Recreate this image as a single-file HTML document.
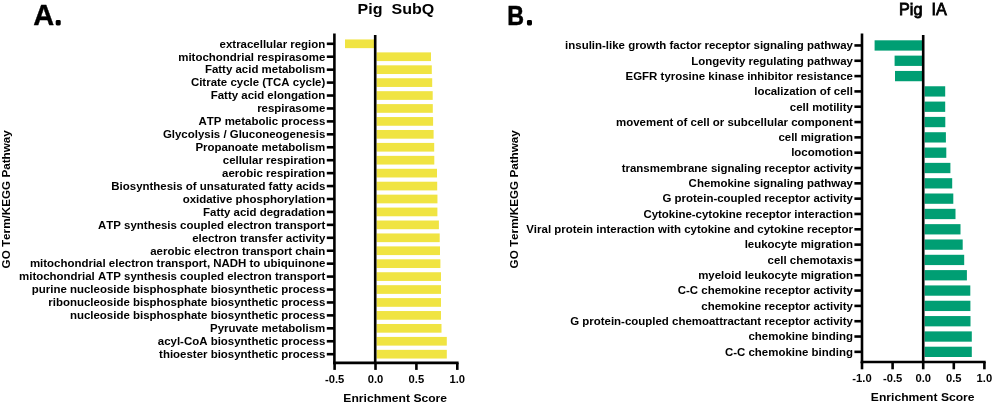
<!DOCTYPE html>
<html><head><meta charset="utf-8"><title>Enrichment</title>
<style>
html,body{margin:0;padding:0;background:#fff;}
svg{display:block;}
text{font-family:"Liberation Sans",Arial,sans-serif;font-weight:bold;fill:#000;font-kerning:none;}
</style></head>
<body>
<svg width="994" height="404" viewBox="0 0 994 404">
<rect width="994" height="404" fill="#fff"/>
<g id="chartA">
<rect x="345.00" y="39.45" width="30.20" height="8.70" fill="#F0E442"/>
<rect x="376.60" y="52.38" width="54.40" height="8.70" fill="#F0E442"/>
<rect x="376.60" y="65.32" width="55.20" height="8.70" fill="#F0E442"/>
<rect x="376.60" y="78.25" width="55.60" height="8.70" fill="#F0E442"/>
<rect x="376.60" y="91.18" width="56.10" height="8.70" fill="#F0E442"/>
<rect x="376.60" y="104.11" width="56.20" height="8.70" fill="#F0E442"/>
<rect x="376.60" y="117.05" width="56.50" height="8.70" fill="#F0E442"/>
<rect x="376.60" y="129.98" width="57.00" height="8.70" fill="#F0E442"/>
<rect x="376.60" y="142.91" width="57.60" height="8.70" fill="#F0E442"/>
<rect x="376.60" y="155.85" width="57.70" height="8.70" fill="#F0E442"/>
<rect x="376.60" y="168.78" width="60.40" height="8.70" fill="#F0E442"/>
<rect x="376.60" y="181.71" width="60.60" height="8.70" fill="#F0E442"/>
<rect x="376.60" y="194.65" width="60.85" height="8.70" fill="#F0E442"/>
<rect x="376.60" y="207.58" width="60.80" height="8.70" fill="#F0E442"/>
<rect x="376.60" y="220.51" width="62.30" height="8.70" fill="#F0E442"/>
<rect x="376.60" y="233.45" width="63.10" height="8.70" fill="#F0E442"/>
<rect x="376.60" y="246.38" width="63.40" height="8.70" fill="#F0E442"/>
<rect x="376.60" y="259.31" width="63.80" height="8.70" fill="#F0E442"/>
<rect x="376.60" y="272.24" width="64.40" height="8.70" fill="#F0E442"/>
<rect x="376.60" y="285.18" width="64.40" height="8.70" fill="#F0E442"/>
<rect x="376.60" y="298.11" width="64.40" height="8.70" fill="#F0E442"/>
<rect x="376.60" y="311.04" width="64.40" height="8.70" fill="#F0E442"/>
<rect x="376.60" y="323.98" width="64.90" height="8.70" fill="#F0E442"/>
<rect x="376.60" y="336.91" width="70.20" height="8.70" fill="#F0E442"/>
<rect x="376.60" y="349.84" width="70.20" height="8.70" fill="#F0E442"/>
<g stroke="#000" stroke-width="2.6" fill="none">
<line x1="334.4" y1="33.6" x2="334.4" y2="364.2"/>
<line x1="375.2" y1="35.0" x2="375.2" y2="362.9"/>
<line x1="333.09999999999997" y1="362.9" x2="458.6" y2="362.9"/>
<line x1="326.79999999999995" y1="43.80" x2="334.4" y2="43.80"/>
<line x1="326.79999999999995" y1="56.73" x2="334.4" y2="56.73"/>
<line x1="326.79999999999995" y1="69.67" x2="334.4" y2="69.67"/>
<line x1="326.79999999999995" y1="82.60" x2="334.4" y2="82.60"/>
<line x1="326.79999999999995" y1="95.53" x2="334.4" y2="95.53"/>
<line x1="326.79999999999995" y1="108.46" x2="334.4" y2="108.46"/>
<line x1="326.79999999999995" y1="121.40" x2="334.4" y2="121.40"/>
<line x1="326.79999999999995" y1="134.33" x2="334.4" y2="134.33"/>
<line x1="326.79999999999995" y1="147.26" x2="334.4" y2="147.26"/>
<line x1="326.79999999999995" y1="160.20" x2="334.4" y2="160.20"/>
<line x1="326.79999999999995" y1="173.13" x2="334.4" y2="173.13"/>
<line x1="326.79999999999995" y1="186.06" x2="334.4" y2="186.06"/>
<line x1="326.79999999999995" y1="199.00" x2="334.4" y2="199.00"/>
<line x1="326.79999999999995" y1="211.93" x2="334.4" y2="211.93"/>
<line x1="326.79999999999995" y1="224.86" x2="334.4" y2="224.86"/>
<line x1="326.79999999999995" y1="237.80" x2="334.4" y2="237.80"/>
<line x1="326.79999999999995" y1="250.73" x2="334.4" y2="250.73"/>
<line x1="326.79999999999995" y1="263.66" x2="334.4" y2="263.66"/>
<line x1="326.79999999999995" y1="276.59" x2="334.4" y2="276.59"/>
<line x1="326.79999999999995" y1="289.53" x2="334.4" y2="289.53"/>
<line x1="326.79999999999995" y1="302.46" x2="334.4" y2="302.46"/>
<line x1="326.79999999999995" y1="315.39" x2="334.4" y2="315.39"/>
<line x1="326.79999999999995" y1="328.33" x2="334.4" y2="328.33"/>
<line x1="326.79999999999995" y1="341.26" x2="334.4" y2="341.26"/>
<line x1="326.79999999999995" y1="354.19" x2="334.4" y2="354.19"/>
<line x1="334.6" y1="362.9" x2="334.6" y2="369.9"/>
<line x1="375.5" y1="362.9" x2="375.5" y2="369.9"/>
<line x1="416.4" y1="362.9" x2="416.4" y2="369.9"/>
<line x1="457.3" y1="362.9" x2="457.3" y2="369.9"/>
</g>
<text transform="translate(325.30,47.60) scale(1.063,1)" font-size="10.8" text-anchor="end">extracellular region</text>
<text transform="translate(325.30,60.53) scale(1.063,1)" font-size="10.8" text-anchor="end">mitochondrial respirasome</text>
<text transform="translate(325.30,73.47) scale(1.063,1)" font-size="10.8" text-anchor="end">Fatty acid metabolism</text>
<text transform="translate(325.30,86.40) scale(1.063,1)" font-size="10.8" text-anchor="end">Citrate cycle (TCA cycle)</text>
<text transform="translate(325.30,99.33) scale(1.063,1)" font-size="10.8" text-anchor="end">Fatty acid elongation</text>
<text transform="translate(325.30,112.26) scale(1.063,1)" font-size="10.8" text-anchor="end">respirasome</text>
<text transform="translate(325.30,125.20) scale(1.063,1)" font-size="10.8" text-anchor="end">ATP metabolic process</text>
<text transform="translate(325.30,138.13) scale(1.063,1)" font-size="10.8" text-anchor="end">Glycolysis / Gluconeogenesis</text>
<text transform="translate(325.30,151.06) scale(1.063,1)" font-size="10.8" text-anchor="end">Propanoate metabolism</text>
<text transform="translate(325.30,164.00) scale(1.063,1)" font-size="10.8" text-anchor="end">cellular respiration</text>
<text transform="translate(325.30,176.93) scale(1.063,1)" font-size="10.8" text-anchor="end">aerobic respiration</text>
<text transform="translate(325.30,189.86) scale(1.063,1)" font-size="10.8" text-anchor="end">Biosynthesis of unsaturated fatty acids</text>
<text transform="translate(325.30,202.80) scale(1.063,1)" font-size="10.8" text-anchor="end">oxidative phosphorylation</text>
<text transform="translate(325.30,215.73) scale(1.063,1)" font-size="10.8" text-anchor="end">Fatty acid degradation</text>
<text transform="translate(325.30,228.66) scale(1.063,1)" font-size="10.8" text-anchor="end">ATP synthesis coupled electron transport</text>
<text transform="translate(325.30,241.60) scale(1.063,1)" font-size="10.8" text-anchor="end">electron transfer activity</text>
<text transform="translate(325.30,254.53) scale(1.063,1)" font-size="10.8" text-anchor="end">aerobic electron transport chain</text>
<text transform="translate(325.30,267.46) scale(1.063,1)" font-size="10.8" text-anchor="end">mitochondrial electron transport, NADH to ubiquinone</text>
<text transform="translate(325.30,280.39) scale(1.063,1)" font-size="10.8" text-anchor="end">mitochondrial ATP synthesis coupled electron transport</text>
<text transform="translate(325.30,293.33) scale(1.063,1)" font-size="10.8" text-anchor="end">purine nucleoside bisphosphate biosynthetic process</text>
<text transform="translate(325.30,306.26) scale(1.063,1)" font-size="10.8" text-anchor="end">ribonucleoside bisphosphate biosynthetic process</text>
<text transform="translate(325.30,319.19) scale(1.063,1)" font-size="10.8" text-anchor="end">nucleoside bisphosphate biosynthetic process</text>
<text transform="translate(325.30,332.13) scale(1.063,1)" font-size="10.8" text-anchor="end">Pyruvate metabolism</text>
<text transform="translate(325.30,345.06) scale(1.063,1)" font-size="10.8" text-anchor="end">acyl-CoA biosynthetic process</text>
<text transform="translate(325.30,357.99) scale(1.063,1)" font-size="10.8" text-anchor="end">thioester biosynthetic process</text>
<text transform="translate(334.60,383.00) scale(1.09,1)" font-size="10.3" text-anchor="middle">-0.5</text>
<text transform="translate(375.50,383.00) scale(1.09,1)" font-size="10.3" text-anchor="middle">0.0</text>
<text transform="translate(416.40,383.00) scale(1.09,1)" font-size="10.3" text-anchor="middle">0.5</text>
<text transform="translate(457.30,383.00) scale(1.09,1)" font-size="10.3" text-anchor="middle">1.0</text>
<text transform="translate(395.20,402.00) scale(1.028,1)" font-size="11.8" text-anchor="middle">Enrichment Score</text>
<text transform="translate(395.90,13.90) scale(1.055,1)" font-size="15.2" text-anchor="middle" xml:space="preserve">Pig  SubQ</text>
<text transform="translate(10.0,199.3) rotate(-90) scale(1.063,1)" font-size="11" text-anchor="middle">GO Term/KEGG Pathway</text>
<text transform="translate(33.35,25.0) scale(1.0,1)" font-size="29.0" stroke="#000" stroke-width="0.4" stroke-linejoin="round">A</text>
<text x="55.95" y="23.75" font-size="16" stroke="#000" stroke-width="2.8" stroke-linejoin="round">.</text>
</g>
<g id="chartB">
<rect x="874.60" y="40.30" width="48.60" height="10.30" fill="#009E73"/>
<rect x="894.60" y="55.62" width="28.60" height="10.30" fill="#009E73"/>
<rect x="895.00" y="70.94" width="28.20" height="10.30" fill="#009E73"/>
<rect x="924.60" y="86.26" width="20.60" height="10.30" fill="#009E73"/>
<rect x="924.60" y="101.58" width="20.60" height="10.30" fill="#009E73"/>
<rect x="924.60" y="116.90" width="20.70" height="10.30" fill="#009E73"/>
<rect x="924.60" y="132.22" width="21.30" height="10.30" fill="#009E73"/>
<rect x="924.60" y="147.54" width="21.70" height="10.30" fill="#009E73"/>
<rect x="924.60" y="162.86" width="25.80" height="10.30" fill="#009E73"/>
<rect x="924.60" y="178.18" width="27.60" height="10.30" fill="#009E73"/>
<rect x="924.60" y="193.50" width="28.70" height="10.30" fill="#009E73"/>
<rect x="924.60" y="208.82" width="30.90" height="10.30" fill="#009E73"/>
<rect x="924.60" y="224.14" width="35.90" height="10.30" fill="#009E73"/>
<rect x="924.60" y="239.46" width="38.10" height="10.30" fill="#009E73"/>
<rect x="924.60" y="254.78" width="39.60" height="10.30" fill="#009E73"/>
<rect x="924.60" y="270.10" width="42.30" height="10.30" fill="#009E73"/>
<rect x="924.60" y="285.42" width="45.70" height="10.30" fill="#009E73"/>
<rect x="924.60" y="300.74" width="45.80" height="10.30" fill="#009E73"/>
<rect x="924.60" y="316.06" width="45.90" height="10.30" fill="#009E73"/>
<rect x="924.60" y="331.38" width="47.20" height="10.30" fill="#009E73"/>
<rect x="924.60" y="346.70" width="47.20" height="10.30" fill="#009E73"/>
<g stroke="#000" stroke-width="2.6" fill="none">
<line x1="862.0" y1="33.6" x2="862.0" y2="363.3"/>
<line x1="923.2" y1="35.0" x2="923.2" y2="362.0"/>
<line x1="860.7" y1="362.0" x2="985.6999999999999" y2="362.0"/>
<line x1="854.4" y1="45.45" x2="862.0" y2="45.45"/>
<line x1="854.4" y1="60.77" x2="862.0" y2="60.77"/>
<line x1="854.4" y1="76.09" x2="862.0" y2="76.09"/>
<line x1="854.4" y1="91.41" x2="862.0" y2="91.41"/>
<line x1="854.4" y1="106.73" x2="862.0" y2="106.73"/>
<line x1="854.4" y1="122.05" x2="862.0" y2="122.05"/>
<line x1="854.4" y1="137.37" x2="862.0" y2="137.37"/>
<line x1="854.4" y1="152.69" x2="862.0" y2="152.69"/>
<line x1="854.4" y1="168.01" x2="862.0" y2="168.01"/>
<line x1="854.4" y1="183.33" x2="862.0" y2="183.33"/>
<line x1="854.4" y1="198.65" x2="862.0" y2="198.65"/>
<line x1="854.4" y1="213.97" x2="862.0" y2="213.97"/>
<line x1="854.4" y1="229.29" x2="862.0" y2="229.29"/>
<line x1="854.4" y1="244.61" x2="862.0" y2="244.61"/>
<line x1="854.4" y1="259.93" x2="862.0" y2="259.93"/>
<line x1="854.4" y1="275.25" x2="862.0" y2="275.25"/>
<line x1="854.4" y1="290.57" x2="862.0" y2="290.57"/>
<line x1="854.4" y1="305.89" x2="862.0" y2="305.89"/>
<line x1="854.4" y1="321.21" x2="862.0" y2="321.21"/>
<line x1="854.4" y1="336.53" x2="862.0" y2="336.53"/>
<line x1="854.4" y1="351.85" x2="862.0" y2="351.85"/>
<line x1="862.0" y1="362.0" x2="862.0" y2="369.3"/>
<line x1="892.6" y1="362.0" x2="892.6" y2="369.3"/>
<line x1="923.2" y1="362.0" x2="923.2" y2="369.3"/>
<line x1="953.8" y1="362.0" x2="953.8" y2="369.3"/>
<line x1="984.4" y1="362.0" x2="984.4" y2="369.3"/>
</g>
<text transform="translate(852.90,49.25) scale(1.063,1)" font-size="10.8" text-anchor="end">insulin-like growth factor receptor signaling pathway</text>
<text transform="translate(852.90,64.57) scale(1.063,1)" font-size="10.8" text-anchor="end">Longevity regulating pathway</text>
<text transform="translate(852.90,79.89) scale(1.063,1)" font-size="10.8" text-anchor="end">EGFR tyrosine kinase inhibitor resistance</text>
<text transform="translate(852.90,95.21) scale(1.063,1)" font-size="10.8" text-anchor="end">localization of cell</text>
<text transform="translate(852.90,110.53) scale(1.063,1)" font-size="10.8" text-anchor="end">cell motility</text>
<text transform="translate(852.90,125.85) scale(1.063,1)" font-size="10.8" text-anchor="end">movement of cell or subcellular component</text>
<text transform="translate(852.90,141.17) scale(1.063,1)" font-size="10.8" text-anchor="end">cell migration</text>
<text transform="translate(852.90,156.49) scale(1.063,1)" font-size="10.8" text-anchor="end">locomotion</text>
<text transform="translate(852.90,171.81) scale(1.063,1)" font-size="10.8" text-anchor="end">transmembrane signaling receptor activity</text>
<text transform="translate(852.90,187.13) scale(1.063,1)" font-size="10.8" text-anchor="end">Chemokine signaling pathway</text>
<text transform="translate(852.90,202.45) scale(1.063,1)" font-size="10.8" text-anchor="end">G protein-coupled receptor activity</text>
<text transform="translate(852.90,217.77) scale(1.063,1)" font-size="10.8" text-anchor="end">Cytokine-cytokine receptor interaction</text>
<text transform="translate(852.90,233.09) scale(1.063,1)" font-size="10.8" text-anchor="end">Viral protein interaction with cytokine and cytokine receptor</text>
<text transform="translate(852.90,248.41) scale(1.063,1)" font-size="10.8" text-anchor="end">leukocyte migration</text>
<text transform="translate(852.90,263.73) scale(1.063,1)" font-size="10.8" text-anchor="end">cell chemotaxis</text>
<text transform="translate(852.90,279.05) scale(1.063,1)" font-size="10.8" text-anchor="end">myeloid leukocyte migration</text>
<text transform="translate(852.90,294.37) scale(1.063,1)" font-size="10.8" text-anchor="end">C-C chemokine receptor activity</text>
<text transform="translate(852.90,309.69) scale(1.063,1)" font-size="10.8" text-anchor="end">chemokine receptor activity</text>
<text transform="translate(852.90,325.01) scale(1.063,1)" font-size="10.8" text-anchor="end">G protein-coupled chemoattractant receptor activity</text>
<text transform="translate(852.90,340.33) scale(1.063,1)" font-size="10.8" text-anchor="end">chemokine binding</text>
<text transform="translate(852.90,355.65) scale(1.063,1)" font-size="10.8" text-anchor="end">C-C chemokine binding</text>
<text transform="translate(862.00,382.00) scale(1.09,1)" font-size="10.3" text-anchor="middle">-1.0</text>
<text transform="translate(892.60,382.00) scale(1.09,1)" font-size="10.3" text-anchor="middle">-0.5</text>
<text transform="translate(923.20,382.00) scale(1.09,1)" font-size="10.3" text-anchor="middle">0.0</text>
<text transform="translate(953.80,382.00) scale(1.09,1)" font-size="10.3" text-anchor="middle">0.5</text>
<text transform="translate(984.40,382.00) scale(1.09,1)" font-size="10.3" text-anchor="middle">1.0</text>
<text transform="translate(922.70,401.00) scale(1.028,1)" font-size="11.8" text-anchor="middle">Enrichment Score</text>
<text transform="translate(922.90,14.90) scale(1.01,1)" font-size="16" text-anchor="middle" xml:space="preserve" style="font-weight:normal" stroke="#000" stroke-width="0.8">Pig  IA</text>
<text transform="translate(518.0,199.3) rotate(-90) scale(1.063,1)" font-size="11" text-anchor="middle">GO Term/KEGG Pathway</text>
<text transform="translate(507.3,24.9) scale(0.82,1)" font-size="28.4" stroke="#000" stroke-width="0.5" stroke-linejoin="round">B</text>
<text x="527.3" y="23.6" font-size="16" stroke="#000" stroke-width="2.8" stroke-linejoin="round">.</text>
</g>
</svg>
</body></html>
